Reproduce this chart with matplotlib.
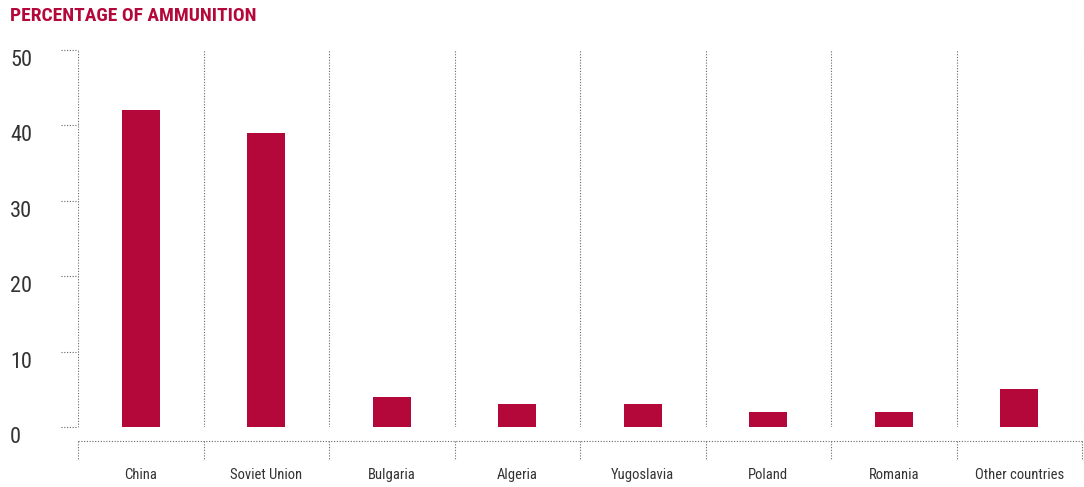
import matplotlib
matplotlib.use('agg')
import matplotlib.pyplot as plt
import matplotlib.transforms as mtransforms
from matplotlib import font_manager

# data
countries = ['China', 'Soviet Union', 'Bulgaria', 'Algeria', 'Yugoslavia',
             'Poland', 'Romania', 'Other countries']
share = [42, 39, 4, 3, 3, 2, 2, 5]
yticks = [0, 10, 20, 30, 40, 50]

red = '#b5083a'
grey = '#666666'
dot = (0, (1, 1.5))
names = {f.name for f in font_manager.fontManager.ttflist}
fam = 'DejaVu Sans'
for cand in ['Liberation Sans Narrow', 'Roboto Condensed', 'DejaVu Sans Condensed', 'Roboto']:
    if cand in names:
        fam = cand
        break
plt.rcParams['font.family'] = [fam, 'DejaVu Sans']

fig = plt.figure(figsize=(10.84, 4.87), dpi=100)
ax = fig.add_axes([78 / 1084, 1 - 427 / 487, (1082 - 78) / 1084, 377 / 487])

x = list(range(len(countries)))
ax.bar(x, share, width=0.3, color=red, zorder=3)
ax.set_xlim(-0.5, len(countries) - 0.5)
ax.set_ylim(0, 50)

for s in ax.spines.values():
    s.set_visible(False)
ax.set_xticks([])
ax.set_yticks([])

# dotted category separators inside the plot
for b in [i - 0.5 for i in range(len(countries) + 1)]:
    ax.axvline(b, color=grey, lw=0.8, ls=dot, zorder=1)

# dotted tick stubs on the left and the labels under them
tr = mtransforms.blended_transform_factory(ax.transAxes, ax.transData)
for t in yticks:
    ax.plot([-17 / 1004, 0], [t, t], transform=tr, color=grey, lw=0.8,
            ls=dot, clip_on=False)
    ax.text(-68 / 1004, t, str(t), transform=tr, ha='left', va='top',
            fontsize=16, color='#333333')

# bracket row under the plot
trx = mtransforms.blended_transform_factory(ax.transData, ax.transAxes)
ax.plot([-0.5, len(countries) - 0.5], [-14 / 377, -14 / 377], transform=trx,
        color=grey, lw=0.8, ls=dot, clip_on=False)
for b in [i - 0.5 for i in range(len(countries) + 1)]:
    ax.plot([b, b], [-14 / 377, -33 / 377], transform=trx, color=grey,
            lw=0.8, ls=dot, clip_on=False)
for i, c in enumerate(countries):
    ax.text(i, -48 / 377, c, transform=trx, ha='center', va='center',
            fontsize=10.5, color='#333333')

fig.text(10 / 1084, 1 - 16 / 487, 'PERCENTAGE OF AMMUNITION', ha='left',
         va='center', fontsize=14, fontweight='bold', color=red)

fig.savefig('out.png', dpi=100)
